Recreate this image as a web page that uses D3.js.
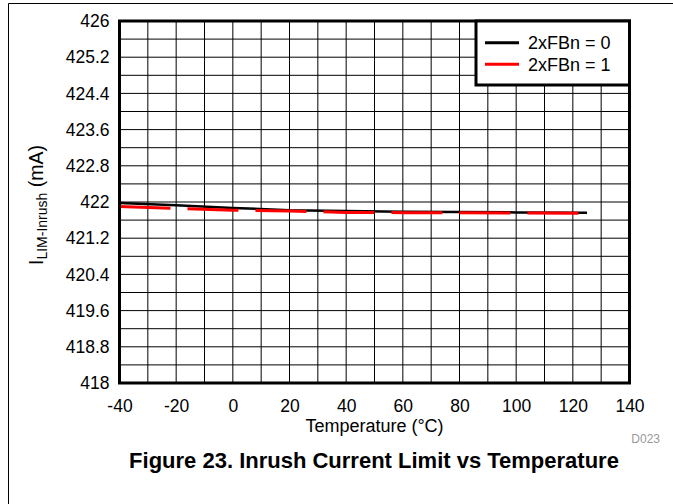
<!DOCTYPE html>
<html>
<head>
<meta charset="utf-8">
<script src="https://cdn.jsdelivr.net/npm/d3@7"></script>
<style>
  html, body { margin: 0; padding: 0; background: #fff; }
  svg { display: block; font-family: "Liberation Sans", Arial, sans-serif; }
</style>
</head>
<body>
<svg id="chart" width="673" height="504"></svg>
<script>
// ---- data ----
const temperatures = [-40, -20, 0, 20, 40, 60, 80, 100, 125];
const series0 = [421.977, 421.93, 421.87, 421.82, 421.80, 421.785, 421.78, 421.77, 421.76]; // 2xFBn = 0
const series1 = [421.90, 421.86, 421.82, 421.80, 421.77, 421.765, 421.76, 421.755, 421.75]; // 2xFBn = 1
const seriesNames = ["2xFBn = 0", "2xFBn = 1"];
const xTickLabels = [-40, -20, 0, 20, 40, 60, 80, 100, 120, 140];
const yTickLabels = [418, 418.8, 419.6, 420.4, 421.2, 422, 422.8, 423.6, 424.4, 425.2, 426];
const xGrid = d3.range(-40, 141, 10);
const yGrid = d3.range(0, 21).map(i => +(418 + i * 0.4).toFixed(1));

// ---- layout ----
const svg = d3.select("#chart");
const FONT = "'Liberation Sans', Arial, sans-serif";
const L = 119.5, R = 629.5, T = 21, B = 383;
const x = d3.scaleLinear().domain([-40, 140]).range([L, R]);
const y = d3.scaleLinear().domain([418, 426]).range([B, T]);

// outer frame
svg.append("line").attr("x1", 8.5).attr("x2", 8.5).attr("y1", 3.5).attr("y2", 504).attr("stroke", "#000").attr("stroke-width", 1);
svg.append("line").attr("x1", 8.5).attr("x2", 673).attr("y1", 3.5).attr("y2", 3.5).attr("stroke", "#000").attr("stroke-width", 1);

// grid
const grid = svg.append("g");
grid.selectAll("line.v").data(xGrid).join("line")
  .attr("x1", d => x(d)).attr("x2", d => x(d)).attr("y1", T).attr("y2", B)
  .attr("stroke", "#000").attr("stroke-width", 1);
grid.selectAll("line.h").data(yGrid).join("line")
  .attr("y1", d => y(d)).attr("y2", d => y(d)).attr("x1", L).attr("x2", R)
  .attr("stroke", "#000").attr("stroke-width", 1);

// axes labels
const fmt = d => String(+(+d).toFixed(1));
const xAxis = svg.append("g").attr("transform", `translate(0,${B})`)
  .call(d3.axisBottom(x).tickValues(xTickLabels).tickFormat(fmt).tickSize(0).tickPadding(16.6));
const yAxis = svg.append("g").attr("transform", `translate(${L},0)`)
  .call(d3.axisLeft(y).tickValues(yTickLabels).tickFormat(fmt).tickSize(0).tickPadding(10));
[xAxis, yAxis].forEach(a => {
  a.attr("font-family", FONT).attr("font-size", 17.5);
  a.select(".domain").remove();
  a.selectAll("text").attr("fill", "#000");
});

// lines
const line = d3.line().x((d, i) => x(temperatures[i])).y(d => y(d));
svg.append("path").datum(series0).attr("d", line)
  .attr("fill", "none").attr("stroke", "#000").attr("stroke-width", 2.5);
svg.append("path").datum(series1).attr("d", line)
  .attr("fill", "none").attr("stroke", "#ff0000").attr("stroke-width", 3)
  .attr("stroke-dasharray", "51,17");

// plot border
svg.append("rect").attr("x", L).attr("y", T).attr("width", R - L).attr("height", B - T)
  .attr("fill", "none").attr("stroke", "#000").attr("stroke-width", 3);

// legend
const lg = svg.append("g");
lg.append("rect").attr("x", 476).attr("y", T).attr("width", R - 476).attr("height", 85 - T)
  .attr("fill", "#fff").attr("stroke", "#000").attr("stroke-width", 3);
const legendColors = ["#000", "#ff0000"];
const legendY = [42.7, 64.3];
seriesNames.forEach((n, i) => {
  lg.append("line").attr("x1", 485).attr("x2", 519).attr("y1", legendY[i]).attr("y2", legendY[i])
    .attr("stroke", legendColors[i]).attr("stroke-width", 3);
  lg.append("text").attr("x", 528).attr("y", legendY[i] + 6.4).attr("font-size", 18).text(n);
});

// axis titles
svg.append("text").attr("x", (L + R) / 2).attr("y", 431.5).attr("text-anchor", "middle")
  .attr("font-size", 18).text("Temperature (°C)");
const yt = svg.append("text").attr("transform", `translate(43,${(T + B) / 2 + 3}) rotate(-90)`)
  .attr("text-anchor", "middle").attr("font-size", 19.5);
yt.append("tspan").text("I");
yt.append("tspan").attr("font-size", 14).attr("dy", 4).text("LIM-Inrush");
yt.append("tspan").attr("dy", -4).text(" (mA)");

svg.append("text").attr("x", 660).attr("y", 442.5).attr("text-anchor", "end")
  .attr("font-size", 12).attr("fill", "#999").text("D023");

svg.append("text").attr("x", 374).attr("y", 468).attr("text-anchor", "middle")
  .attr("font-size", 22).attr("font-weight", "bold").text("Figure 23. Inrush Current Limit vs Temperature");
</script>
</body>
</html>
